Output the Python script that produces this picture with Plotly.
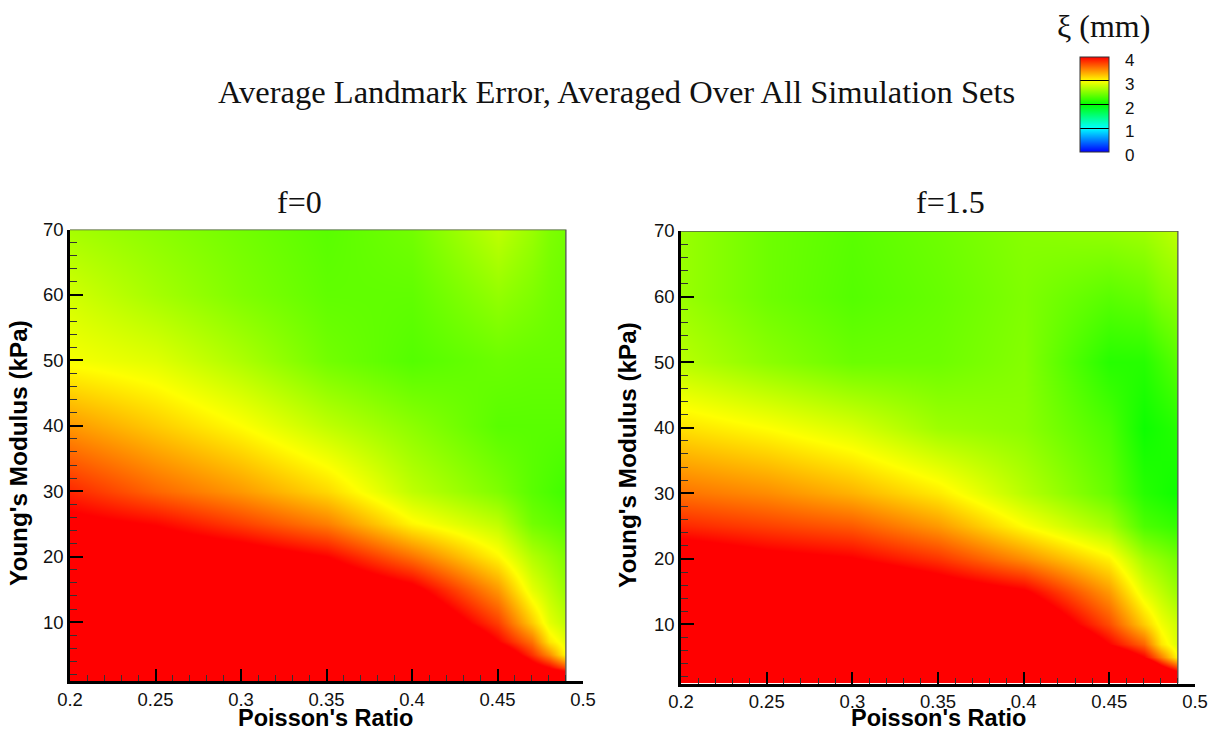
import plotly.graph_objects as go

W, H = 1215, 731

# ---- data ----
poisson = [0.2, 0.25, 0.3, 0.35, 0.4, 0.45, 0.47, 0.48, 0.49]
young = [1, 3, 5, 7, 10, 15, 20, 25, 30, 40, 50, 60, 70]

error_f0 = [
    [5.0, 5.0, 5.0, 5.0, 5.0, 5.0, 5.0, 5.0, 4.8],
    [5.0, 5.0, 5.0, 5.0, 5.0, 5.0, 4.2, 4.0, 3.7],
    [5.0, 5.0, 5.0, 5.0, 5.0, 4.4, 3.8, 3.45, 3.0],
    [5.0, 5.0, 5.0, 5.0, 5.0, 4.0, 3.55, 3.1, 2.9],
    [5.0, 5.0, 5.0, 4.9, 4.5, 3.75, 3.2, 2.9, 2.75],
    [4.8, 4.7, 4.6, 4.4, 4.1, 3.4, 2.9, 2.75, 2.6],
    [4.5, 4.3, 4.2, 4.0, 3.55, 3.03, 2.7, 2.6, 2.5],
    [4.1, 3.98, 3.75, 3.5, 3.03, 2.75, 2.45, 2.4, 2.35],
    [3.85, 3.6, 3.4, 3.15, 2.75, 2.5, 2.35, 2.3, 2.25],
    [3.4, 3.2, 3.0, 2.75, 2.55, 2.35, 2.35, 2.35, 2.35],
    [2.97, 2.88, 2.68, 2.45, 2.33, 2.42, 2.4, 2.4, 2.4],
    [2.82, 2.65, 2.5, 2.38, 2.38, 2.58, 2.5, 2.45, 2.42],
    [2.65, 2.55, 2.45, 2.35, 2.45, 2.75, 2.6, 2.5, 2.45],
]
error_f15 = [
    [5.0, 5.0, 5.0, 5.0, 5.0, 5.0, 5.0, 5.0, 4.8],
    [5.0, 5.0, 5.0, 5.0, 5.0, 5.0, 5.0, 4.3, 3.9],
    [5.0, 5.0, 5.0, 5.0, 5.0, 4.5, 4.0, 3.5, 3.0],
    [5.0, 5.0, 5.0, 5.0, 5.0, 4.0, 3.6, 3.1, 2.85],
    [5.0, 5.0, 5.0, 4.9, 4.5, 3.7, 3.2, 2.95, 2.8],
    [4.6, 4.55, 4.5, 4.25, 4.05, 3.4, 2.9, 2.75, 2.6],
    [4.25, 4.1, 4.02, 3.8, 3.45, 3.05, 2.65, 2.55, 2.45],
    [3.85, 3.75, 3.65, 3.4, 3.0, 2.65, 2.3, 2.25, 2.2],
    [3.55, 3.45, 3.3, 3.08, 2.72, 2.4, 2.15, 2.1, 2.05],
    [3.12, 3.0, 2.85, 2.62, 2.55, 2.3, 2.05, 2.1, 2.15],
    [2.72, 2.55, 2.42, 2.43, 2.52, 2.15, 2.15, 2.25, 2.35],
    [2.6, 2.43, 2.33, 2.4, 2.5, 2.35, 2.4, 2.5, 2.55],
    [2.6, 2.43, 2.35, 2.43, 2.53, 2.58, 2.62, 2.68, 2.75],
]

x_ticks = [0.2, 0.25, 0.3, 0.35, 0.4, 0.45, 0.5]
x_tick_text = ["0.2", "0.25", "0.3", "0.35", "0.4", "0.45", "0.5"]
y_ticks = [10, 20, 30, 40, 50, 60, 70]
cbar_ticks = [0, 1, 2, 3, 4]
titles = ["f=0", "f=1.5"]
main_title = "Average Landmark Error, Averaged Over All Simulation Sets"
cbar_title = "ξ (mm)"
x_title = "Poisson's Ratio"
y_title = "Young's Modulus (kPa)"

SERIF = "Liberation Serif"
SANS = "Liberation Sans"


def px(x):
    return x / W


def py(y):
    return 1 - y / H


fig = go.Figure()
for i, z in enumerate([error_f0, error_f15]):
    ax = "" if i == 0 else "2"
    fig.add_trace(go.Contour(
        x=poisson, y=young, z=z, coloraxis="coloraxis",
        contours=dict(coloring="heatmap", showlines=False),
        line=dict(width=0), xaxis="x" + ax, yaxis="y" + ax,
        hoverinfo="skip",
    ))
    # thin frame around the data region
    fig.add_trace(go.Scatter(
        x=[poisson[0], poisson[-1], poisson[-1]], y=[young[-1], young[-1], young[0]],
        mode="lines", line=dict(color="#555555", width=1.3),
        xaxis="x" + ax, yaxis="y" + ax, showlegend=False, hoverinfo="skip",
    ))


def xaxis(l, r, anchor):
    return dict(
        domain=[px(l), px(r)], range=[x_ticks[0], x_ticks[-1]], anchor=anchor,
        tickmode="array", tickvals=x_ticks, ticktext=x_tick_text,
        ticks="inside", ticklen=12, tickwidth=2, tickcolor="black",
        minor=dict(ticks="inside", ticklen=6, tickwidth=1, tickcolor="#333333", dtick=0.01, tick0=0.2),
        showline=True, linecolor="black", linewidth=2.5, showgrid=False, zeroline=False,
        tickfont=dict(family=SANS, size=18.5, color="#111111"), automargin=False,
    )


def yaxis(t, b, anchor):
    return dict(
        domain=[py(b), py(t)], range=[young[0], young[-1]], anchor=anchor,
        tickmode="array", tickvals=y_ticks,
        ticks="inside", ticklen=13, tickwidth=2, tickcolor="black",
        minor=dict(ticks="inside", ticklen=7, tickwidth=1, tickcolor="#333333", dtick=2, tick0=0),
        showline=True, linecolor="black", linewidth=2.5, showgrid=False, zeroline=False,
        tickfont=dict(family=SANS, size=18.5, color="#111111"), automargin=False,
    )


CB_TOP, CB_BOTTOM = 57, 152
AX_TITLE_X = dict(family=SANS, size=23.5, color="black")
AX_TITLE_Y = dict(family=SANS, size=24.3, color="black")
annotations = [
    dict(text=main_title, x=px(616), y=py(92), font=dict(family=SERIF, size=32.5, color="#111111")),
    dict(text=titles[0], x=px(299.5), y=py(202), font=dict(family=SERIF, size=32, color="#111111")),
    dict(text=titles[1], x=px(950), y=py(202), font=dict(family=SERIF, size=32, color="#111111")),
    dict(text=cbar_title, x=px(1103), y=py(26), font=dict(family=SERIF, size=32, color="#111111")),
    dict(text="<b>" + x_title + "</b>", x=px(325), y=py(718), font=AX_TITLE_X),
    dict(text="<b>" + x_title + "</b>", x=px(938), y=py(717.5), font=AX_TITLE_X),
    dict(text="<b>" + y_title + "</b>", x=px(18), y=py(453), textangle=-90, font=AX_TITLE_Y),
    dict(text="<b>" + y_title + "</b>", x=px(628), y=py(455), textangle=-90, font=AX_TITLE_Y),
]
for v in cbar_ticks:
    annotations.append(dict(
        text=str(v), x=px(1123), xanchor="left",
        y=py(CB_BOTTOM - v / cbar_ticks[-1] * (CB_BOTTOM - CB_TOP) + 3.5),
        font=dict(family=SANS, size=17, color="#111111"),
    ))
for a in annotations:
    a.update(xref="paper", yref="paper", showarrow=False)
    a.setdefault("xanchor", "center")
    a.setdefault("yanchor", "middle")

fig.update_layout(
    width=W, height=H, margin=dict(l=0, r=0, t=0, b=0, autoexpand=False),
    paper_bgcolor="white", plot_bgcolor="white", showlegend=False,
    xaxis=xaxis(70, 583, "y"), yaxis=yaxis(229.5, 681, "x"),
    xaxis2=xaxis(681, 1195, "y2"), yaxis2=yaxis(231, 683.5, "x2"),
    coloraxis=dict(
        cmin=cbar_ticks[0], cmax=cbar_ticks[-1],
        colorscale=[[0, "#0000ff"], [0.25, "#00ffff"], [0.5, "#00ff00"], [0.75, "#ffff00"], [1, "#ff0000"]],
        colorbar=dict(
            x=px(1080), xanchor="left", y=py(CB_BOTTOM), yanchor="bottom",
            lenmode="pixels", len=CB_BOTTOM - CB_TOP, thicknessmode="pixels", thickness=29,
            xpad=0, ypad=0, tickvals=cbar_ticks, showticklabels=False,
            ticks="inside", ticklen=29, tickcolor="black", tickwidth=1,
            outlinewidth=1, outlinecolor="#333333",
        ),
    ),
    annotations=annotations,
)
fig.write_html("out.html", config=dict(displayModeBar=False), post_script="document.body.style.margin='0';")
